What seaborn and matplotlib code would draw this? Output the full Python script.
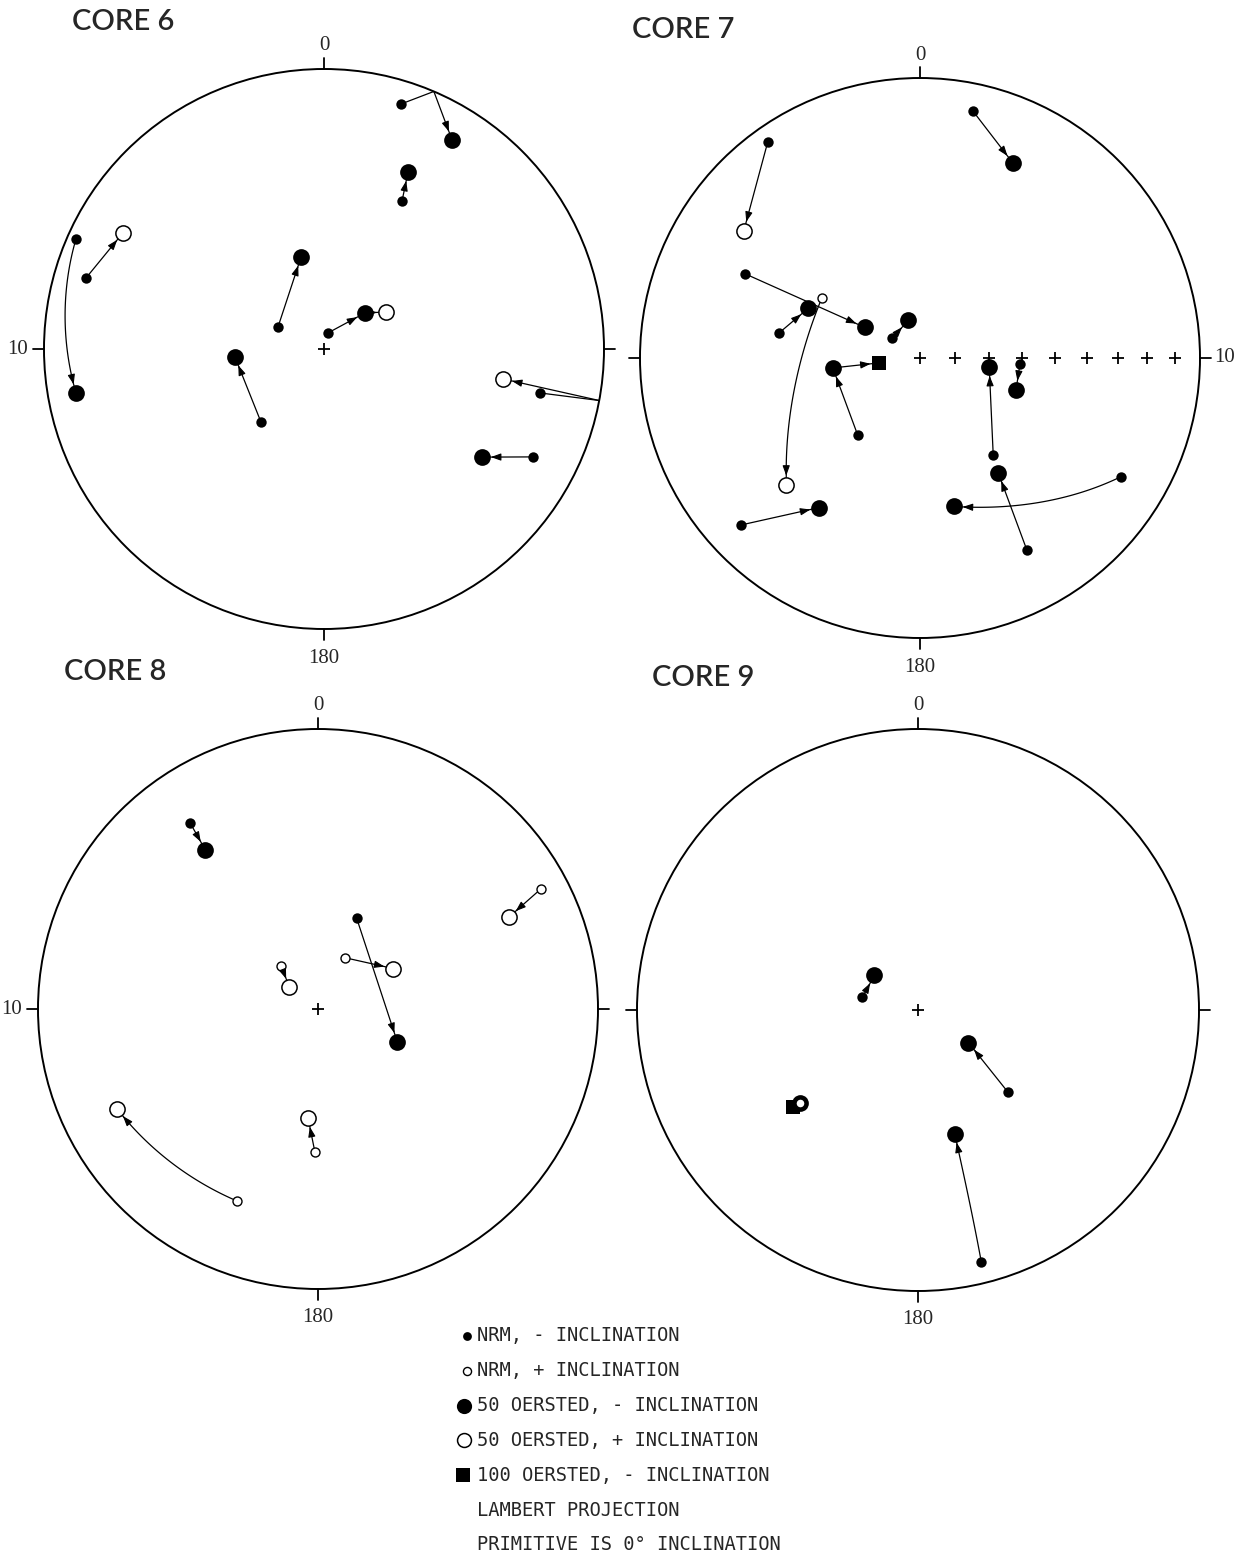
import numpy as np
import pandas as pd
import matplotlib
matplotlib.use("Agg")
import matplotlib.pyplot as plt
import seaborn as sns

# ===============================
# Data: declination / inclination (degrees) read off the four nets
# step codes: N = NRM, F = 50 oersted, H = 100 oersted, E = path meets the primitive
# negative inclination -> filled symbol, positive -> open symbol
# ===============================
core6_path = [1, 1, 1, 2, 2, 3, 3, 4, 4, 5, 5, 6, 6, 6, 7, 7, 8, 8, 8, 9, 9]
core6_step = ["N", "E", "F", "N", "F", "N", "F", "N", "F", "N", "F",
              "N", "F", "F", "N", "F", "N", "E", "F", "N", "F"]
core6_dec = [17.4, 23.1, 31.5, 27.8, 25.4, 293.9, 259.9, 286.6, 300.0, 295.6, 346.0,
             14.0, 48.7, 59.2, 220.8, 264.9, 101.5, 100.6, 99.5, 117.3, 124.4]
core6_inc = [-9.2, 0.0, -13.5, -40.0, -30.7, -3.5, -11.0, -12.3, 18.2, -75.2, -62.3,
             -85.2, -74.1, 69.0, -61.8, -63.9, -22.4, 0.0, 35.4, -17.1, -32.2]

core7_path = [1, 1, 2, 2, 3, 3, 4, 4, 5, 5, 6, 6, 7, 7, 7, 8, 8, 9, 9, 10, 10, 11, 11, 12, 12]
core7_step = ["N", "F", "N", "F", "N", "F", "N", "F", "N", "F", "N", "F", "N", "F", "H",
              "N", "F", "N", "F", "N", "F", "N", "F", "N", "F"]
core7_dec = [12.0, 25.5, 324.8, 305.9, 295.7, 299.0, 279.9, 293.9, 301.6, 226.5,
             305.5, 342.5, 218.9, 263.5, 263.2, 142.9, 97.3, 93.4, 108.3,
             150.9, 145.7, 120.6, 167.2, 227.0, 214.0]
core7_inc = [-10.6, -23.9, -6.3, 23.4, -31.2, -71.6, -47.5, -54.0, 56.2, 34.6,
             -80.1, -78.6, -61.0, -64.4, -77.9, -54.3, -69.7, -60.7, -60.4,
             -22.6, -49.0, -17.8, -44.8, -13.6, -35.8]
# inclination scale marked along declination 90 on core 7
core7_scale_dec = 90
core7_scale_inc = [90, 80, 70, 60, 50, 40, 30, 20, 10]

core8_path = [1, 1, 2, 2, 3, 3, 4, 4, 5, 5, 6, 6, 7, 7]
core8_step = ["N", "F"] * 7
core8_dec = [325.5, 324.7, 61.7, 64.3, 23.0, 112.4, 27.4, 61.7, 319.3, 307.2,
             202.9, 243.5, 181.2, 185.2]
core8_inc = [-20.5, -30.9, 10.6, 25.3, -61.1, -65.0, 73.2, 65.1, 73.7, 79.6,
             26.5, 21.0, 47.5, 57.9]

core9_path = [1, 1, 2, 2, 3, 3, 4, 5, 6]
core9_step = ["N", "F", "N", "F", "N", "F", "H", "F", "N"]
core9_dec = [283.1, 308.5, 132.4, 122.9, 165.9, 163.5, 232.1, 231.7, 231.7]
core9_inc = [-73.5, -73.9, -54.3, -72.6, -8.2, -52.1, -43.2, -45.6, 45.6]

# paths drawn along great circles (the rest are straight in the projection)
core6_curved = [3]
core7_curved = [5, 11]
core8_curved = [6]
core9_curved = [3]

titles = ["CORE 6", "CORE 7", "CORE 8", "CORE 9"]
north_label, south_label, side_label = "0", "180", "10"

legend_labels = ["NRM, - INCLINATION", "NRM, + INCLINATION",
                 "50 OERSTED, - INCLINATION", "50 OERSTED, + INCLINATION",
                 "100 OERSTED, - INCLINATION", "LAMBERT PROJECTION",
                 "PRIMITIVE IS 0° INCLINATION"]

# ===============================
# Layout (figure pixels)
# ===============================
W, H = 1252, 1557
nets = [
    dict(path=core6_path, step=core6_step, dec=core6_dec, inc=core6_inc, curved=core6_curved,
         c=(324, 349), R=280, side="left", tpos=(123, 22)),
    dict(path=core7_path, step=core7_step, dec=core7_dec, inc=core7_inc, curved=core7_curved,
         c=(920, 358), R=280, side="right", tpos=(683, 30)),
    dict(path=core8_path, step=core8_step, dec=core8_dec, inc=core8_inc, curved=core8_curved,
         c=(318, 1009), R=280, side="left", tpos=(115, 672)),
    dict(path=core9_path, step=core9_step, dec=core9_dec, inc=core9_inc, curved=core9_curved,
         c=(918, 1010), R=281, side=None, tpos=(703, 678)),
]

sns.set_theme(style="white")
plt.rcParams["font.family"] = ["DejaVu Sans"]

fig = plt.figure(figsize=(W / 100, H / 100), dpi=100)
fig.patch.set_facecolor("white")

RAD_PX = {"N": 5, "F": 8, "H": 7, "E": 0}
STYLE = {
    ("N", True): dict(marker="o", s=56, color="black", edgecolor="black", linewidth=0, zorder=6),
    ("N", False): dict(marker="o", s=42, color="white", edgecolor="black", linewidth=1.0, zorder=7),
    ("F", True): dict(marker="o", s=145, color="black", edgecolor="black", linewidth=0, zorder=5),
    ("F", False): dict(marker="o", s=120, color="white", edgecolor="black", linewidth=1.1, zorder=5),
    ("H", True): dict(marker="s", s=105, color="black", edgecolor="black", linewidth=0, zorder=4),
}


def lambert(dec, inc):
    d = np.radians(np.asarray(dec, float))
    r = np.sqrt(2) * np.sin(np.radians(90 - np.abs(np.asarray(inc, float))) / 2)
    return r * np.sin(d), r * np.cos(d)


def unit_vec(dec, inc):
    d, i = np.radians(dec), np.radians(abs(inc))
    return np.array([np.cos(i) * np.sin(d), np.cos(i) * np.cos(d), np.sin(i)])


def great_arc(p, q, n=60):
    a, b = unit_vec(*p), unit_vec(*q)
    w = np.arccos(np.clip(a @ b, -1, 1))
    t = np.linspace(0, 1, n)[:, None]
    if w < 1e-6:
        v = (1 - t) * a + t * b
    else:
        v = (np.sin((1 - t) * w) * a + np.sin(t * w) * b) / np.sin(w)
    v = v / np.linalg.norm(v, axis=1, keepdims=True)
    dec = np.degrees(np.arctan2(v[:, 0], v[:, 1]))
    inc = np.degrees(np.arcsin(np.clip(v[:, 2], -1, 1)))
    return lambert(dec, inc)


def straight(p, q, n=60):
    x0, y0 = lambert([p[0]], [p[1]])
    x1, y1 = lambert([q[0]], [q[1]])
    t = np.linspace(0, 1, n)
    return x0[0] + t * (x1[0] - x0[0]), y0[0] + t * (y1[0] - y0[0])


def add_arrow(ax, x, y, R, end_rad):
    seg = np.hypot(np.diff(x), np.diff(y)) * R
    cum = np.concatenate([[0], np.cumsum(seg)])
    total = cum[-1]
    if total < end_rad + 10:
        return
    d_tip = total - end_rad - 1
    d_tail = max(d_tip - 8, 0)
    tip = (np.interp(d_tip, cum, x), np.interp(d_tip, cum, y))
    tail = (np.interp(d_tail, cum, x), np.interp(d_tail, cum, y))
    ax.annotate("", xy=tip, xytext=tail, zorder=8,
                arrowprops=dict(arrowstyle="-|>,head_length=0.5,head_width=0.18",
                                color="black", lw=0.8, shrinkA=0, shrinkB=0,
                                mutation_scale=12))


PAD = 1.25
for k, net in enumerate(nets):
    cx, cy = net["c"]
    R = net["R"]
    S = PAD * R
    ax = fig.add_axes([(cx - S) / W, 1 - (cy + S) / H, 2 * S / W, 2 * S / H])
    ax.set_axis_off()
    ax.patch.set_alpha(0)

    # primitive circle and outward ticks
    ax.add_patch(plt.Circle((0, 0), 1, fill=False, lw=1.4, color="black"))
    t_in, t_out = 1.0, 1 + 11 / R
    for ang in (0, 90, 180, 270):
        ex, ey = np.sin(np.radians(ang)), np.cos(np.radians(ang))
        ax.plot([ex * t_in, ex * t_out], [ey * t_in, ey * t_out], color="black", lw=1.3)
    ax.text(0, 1 + 23 / R, north_label, ha="center", va="center",
            fontsize=15, family="Liberation Serif")
    ax.text(0, -1 - 29 / R, south_label, ha="center", va="center",
            fontsize=15, family="Liberation Serif")
    if net["side"] == "left":
        ax.text(-1 - 26 / R, 0, side_label, ha="center", va="center",
                fontsize=15, family="Liberation Serif")
    elif net["side"] == "right":
        ax.text(1 + 25 / R, 0, side_label, ha="center", va="center",
                fontsize=15, family="Liberation Serif")

    # centre mark (and inclination scale on core 7)
    if k == 1:
        sx, sy = lambert([core7_scale_dec] * len(core7_scale_inc), core7_scale_inc)
    else:
        sx, sy = lambert([0], [90])
    ax.plot(sx, sy, ls="none", marker="+", ms=8, mew=1.3, color="black", zorder=3)

    df = pd.DataFrame({"path": net["path"], "step": net["step"],
                       "dec": net["dec"], "inc": net["inc"]})
    df["x"], df["y"] = lambert(df["dec"], df["inc"])

    # connecting paths
    arcs = []
    seg_id = 0
    for pid, grp in df.groupby("path", sort=False):
        rows = grp.to_dict("records")
        join = great_arc if pid in net["curved"] else straight
        for a, b in zip(rows[:-1], rows[1:]):
            x, y = join((a["dec"], a["inc"]), (b["dec"], b["inc"]))
            arcs.append(pd.DataFrame({"seg": seg_id, "x": x, "y": y}))
            seg_id += 1
            if b["step"] != "E":
                add_arrow(ax, x, y, R, RAD_PX[b["step"]])
    if arcs:
        arcs = pd.concat(arcs, ignore_index=True)
        sns.lineplot(data=arcs, x="x", y="y", units="seg", estimator=None, sort=False,
                     color="black", linewidth=0.9, ax=ax, legend=False, zorder=2)

    # symbols
    df["neg"] = df["inc"] <= 0
    for (step, neg), sub in df[df["step"] != "E"].groupby(["step", "neg"]):
        sns.scatterplot(data=sub, x="x", y="y", ax=ax, legend=False, **STYLE[(step, neg)])
    ax.set_xlim(-PAD, PAD)
    ax.set_ylim(-PAD, PAD)
    ax.set_xlabel("")
    ax.set_ylabel("")

    fig.text(net["tpos"][0] / W, 1 - net["tpos"][1] / H, titles[k], ha="center", va="center",
             fontsize=21, family="Lato", fontweight="semibold")

# ===============================
# Legend block
# ===============================
leg = fig.add_axes([0, 0, 1, 1])
leg.set_xlim(0, W)
leg.set_ylim(H, 0)
leg.set_axis_off()
leg.patch.set_alpha(0)
row_y = 1336 + 34.8 * np.arange(len(legend_labels))
sym_keys = [("N", True), ("N", False), ("F", True), ("F", False), ("H", True)]
sym_x = [467, 467, 464, 464, 463]
sym_size = [40, 34, 120, 100, 95]
for i, key in enumerate(sym_keys):
    st = dict(STYLE[key])
    st["s"] = sym_size[i]
    leg.scatter([sym_x[i]], [row_y[i]], **st)
for i, lab in enumerate(legend_labels):
    leg.text(477, row_y[i], lab, ha="left", va="center", fontsize=13.5,
             family="DejaVu Sans Mono")

fig.savefig("out.png", dpi=100, facecolor="white")
